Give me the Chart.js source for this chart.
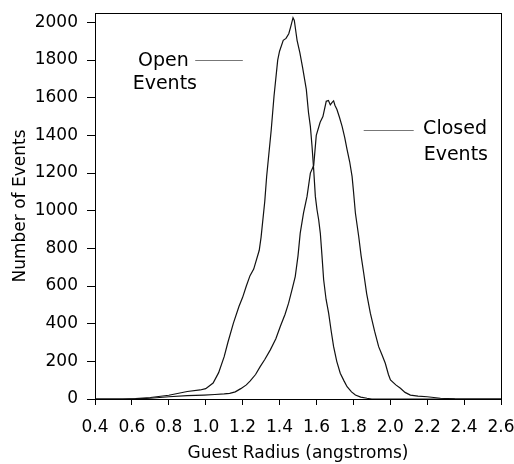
<!DOCTYPE html>
<html>
<head>
<meta charset="utf-8">
<script src="https://cdn.jsdelivr.net/npm/chart.js@4.4.1/dist/chart.umd.min.js"></script>
<style>
  html, body { margin: 0; padding: 0; background: #fff; }
  #wrap { width: 514px; height: 464px; }
</style>
</head>
<body>
<div id="wrap"><canvas id="myChart" width="514" height="464"></canvas></div>
<script>
// open events histogram
var openX = [0.40, 0.55, 0.62, 0.70, 0.80, 0.90, 0.97, 1.00, 1.04, 1.07, 1.10, 1.12, 1.15, 1.18, 1.20, 1.22, 1.24, 1.26,
  1.29, 1.30, 1.32, 1.33, 1.355, 1.37, 1.39, 1.40, 1.42, 1.435, 1.45, 1.46, 1.473, 1.48, 1.49, 1.495, 1.51, 1.525,
  1.545, 1.557, 1.567, 1.576, 1.585, 1.594, 1.603, 1.612, 1.621, 1.63, 1.639, 1.652, 1.666, 1.68, 1.693, 1.71,
  1.729, 1.75, 1.766, 1.79, 1.811, 1.84, 1.874, 1.90, 2.60];
var openY = [0, 0, 2, 8, 20, 40, 48, 55, 85, 140, 225, 300, 403, 491, 540, 600, 655, 690,
  790, 860, 1050, 1180, 1430, 1608, 1800, 1847, 1905, 1915, 1940, 1975, 2025, 2010, 1940, 1905, 1840, 1760,
  1644, 1520, 1448, 1342, 1218, 1076, 1005, 952, 880, 760, 633, 530, 456, 360, 278, 200,
  137, 95, 65, 38, 21, 10, 4, 0, 0];

// closed events histogram
var closedX = [0.40, 0.60, 0.70, 0.80, 0.90, 0.99, 1.05, 1.10, 1.13, 1.16, 1.19, 1.22, 1.24, 1.27, 1.295, 1.32, 1.35,
  1.38, 1.404, 1.43, 1.449, 1.47, 1.485, 1.50, 1.512, 1.53, 1.549, 1.567, 1.585, 1.599, 1.62, 1.635, 1.653, 1.665,
  1.675, 1.685, 1.693, 1.70, 1.711, 1.725, 1.739, 1.753, 1.766, 1.78, 1.793, 1.80, 1.811, 1.829, 1.842, 1.856,
  1.872, 1.892, 1.915, 1.937, 1.955, 1.973, 1.99, 2.001, 2.03, 2.055, 2.08, 2.109, 2.15, 2.20, 2.272, 2.35, 2.60];
var closedY = [0, 0, 4, 12, 18, 21, 24, 27, 30, 38, 55, 75, 95, 130, 172, 210, 261,
  320, 385, 450, 509, 590, 650, 760, 881, 988, 1076, 1200, 1240, 1400, 1470, 1500, 1581, 1585,
  1562, 1575, 1583, 1560, 1537, 1495, 1448, 1390, 1324, 1260, 1182, 1110, 988, 863, 760, 669,
  560, 456, 360, 278, 235, 190, 130, 101, 75, 57, 35, 21, 15, 12, 4, 1, 0];

var xTicks = [0.4, 0.6, 0.8, 1.0, 1.2, 1.4, 1.6, 1.8, 2.0, 2.2, 2.4, 2.6];
var yTicks = [0, 200, 400, 600, 800, 1000, 1200, 1400, 1600, 1800, 2000];

// in-plot labels, in data units
var labels = [
  { lines: ['Open', 'Events'], x: [0.633, 0.604], y: [1795, 1673], lineX: [0.943, 1.201], lineY: 1800 },
  { lines: ['Closed', 'Events'], x: [2.178, 2.181], y: [1436, 1298], lineX: [1.856, 2.127], lineY: 1431 }
];

function pts(xs, ys) {
  return xs.map(function (x, i) { return { x: x, y: ys[i] }; });
}

var tickFont = { family: 'DejaVu Sans', size: 17 };

var frame = {
  id: 'frame',
  afterDatasetsDraw: function (chart) {
    var ctx = chart.ctx, a = chart.chartArea, sx = chart.scales.x, sy = chart.scales.y;
    ctx.save();
    ctx.strokeStyle = '#000';
    ctx.lineWidth = 1;
    ctx.strokeRect(Math.round(a.left) + 0.5, Math.round(a.top) + 0.5, Math.round(a.right - a.left), Math.round(a.bottom - a.top));

    ctx.font = '19px "DejaVu Sans"';
    ctx.fillStyle = '#000';
    ctx.textBaseline = 'middle';
    labels.forEach(function (l) {
      l.lines.forEach(function (t, i) {
        ctx.fillText(t, sx.getPixelForValue(l.x[i]), sy.getPixelForValue(l.y[i]));
      });
      ctx.strokeStyle = '#777';
      ctx.beginPath();
      var ly = Math.round(sy.getPixelForValue(l.lineY)) + 0.5;
      ctx.moveTo(sx.getPixelForValue(l.lineX[0]), ly);
      ctx.lineTo(sx.getPixelForValue(l.lineX[1]), ly);
      ctx.stroke();
    });
    ctx.restore();
  }
};

var ctx = document.getElementById('myChart').getContext('2d');
var myChart = new Chart(ctx, {
  type: 'scatter',
  data: {
    datasets: [
      { label: 'Open Events', data: pts(openX, openY), showLine: true, borderColor: '#111', borderWidth: 1.2, pointRadius: 0, tension: 0 },
      { label: 'Closed Events', data: pts(closedX, closedY), showLine: true, borderColor: '#111', borderWidth: 1.2, pointRadius: 0, tension: 0 }
    ]
  },
  options: {
    responsive: false,
    animation: false,
    events: [],
    layout: { padding: { left: 8, right: 13, top: 13, bottom: 0 } },
    plugins: { legend: { display: false }, tooltip: { enabled: false } },
    scales: {
      x: {
        type: 'linear',
        min: 0.4,
        max: 2.6,
        afterBuildTicks: function (s) { s.ticks = xTicks.map(function (v) { return { value: v }; }); },
        afterFit: function (s) { s.height = 65; s.paddingRight = 0; s.paddingLeft = 0; },
        ticks: { color: '#000', font: tickFont, padding: 12, maxRotation: 0, callback: function (v) { return v.toFixed(1); } },
        grid: { drawOnChartArea: false, color: '#000', tickLength: 6 },
        border: { color: '#000' },
        title: { display: true, text: 'Guest Radius (angstroms)', color: '#000', font: { family: 'DejaVu Sans', size: 17 }, padding: { top: 4, bottom: 0 } }
      },
      y: {
        min: 0,
        max: 2050,
        afterBuildTicks: function (s) { s.ticks = yTicks.map(function (v) { return { value: v }; }); },
        afterFit: function (s) { s.width = 87; s.paddingTop = 0; s.paddingBottom = 0; },
        ticks: { color: '#000', font: tickFont, padding: 9, callback: function (v) { return String(v); } },
        grid: { drawOnChartArea: false, color: '#000', tickLength: 8 },
        border: { color: '#000' },
        title: { display: true, text: 'Number of Events', color: '#000', font: { family: 'DejaVu Sans', size: 17 }, padding: { top: 2, bottom: 0 } }
      }
    }
  },
  plugins: [frame]
});
</script>
</body>
</html>
